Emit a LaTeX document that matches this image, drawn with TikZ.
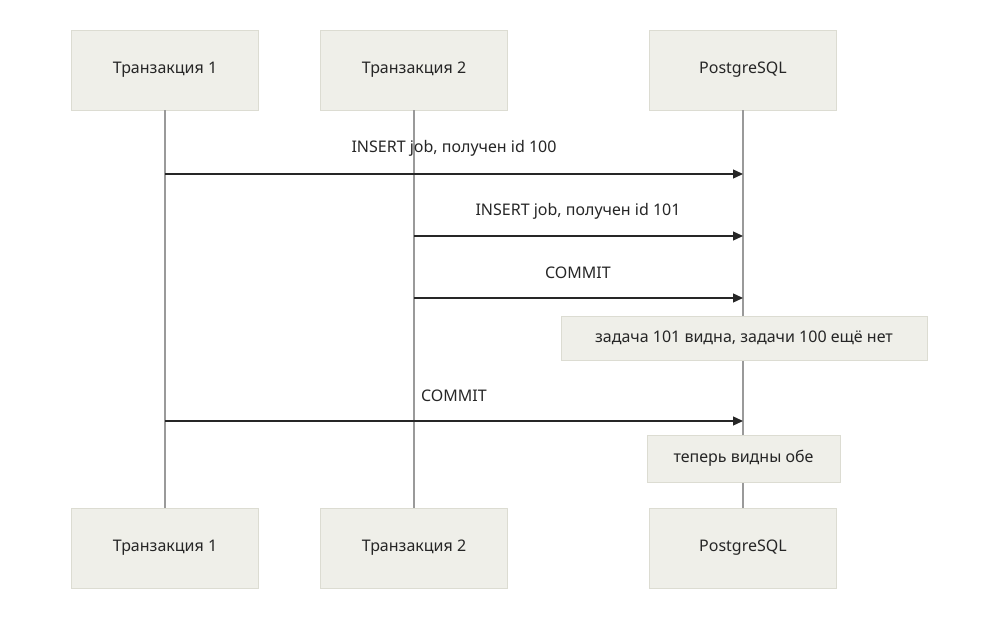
\documentclass[tikz,border=0pt]{standalone}
\usepackage{fontspec}
\setmainfont{Noto Sans}
\usetikzlibrary{arrows.meta}
\definecolor{boxfill}{HTML}{EFEFE9}
\definecolor{boxline}{HTML}{DCDCD2}
\definecolor{life}{HTML}{9A9A9A}
\begin{document}
\begin{tikzpicture}[x=1pt,y=-1pt,
  actor/.style={draw=boxline,fill=boxfill,minimum width=187pt,minimum height=80pt,font=\fontsize{16}{19}\selectfont,text=black!85},
  note/.style={draw=boxline,fill=boxfill,minimum height=44pt,inner xsep=10pt,font=\fontsize{16}{19}\selectfont,text=black!85},
  lifeline/.style={draw=life,line width=1.6pt},
  msg/.style={draw=black!85,line width=1.3pt,-{Triangle[length=10pt,width=9pt]}},
  lbl/.style={font=\fontsize{16}{19}\selectfont,text=black!85}]
\useasboundingbox (0,0) rectangle (1005,624);
\node[actor] (t1) at (165,70) {Транзакция 1};
\node[actor] (t2) at (414,70) {Транзакция 2};
\node[actor] (pg) at (743,70) {PostgreSQL};
\node[actor] (t1b) at (165,548) {Транзакция 1};
\node[actor] (t2b) at (414,548) {Транзакция 2};
\node[actor] (pgb) at (743,548) {PostgreSQL};
\draw[lifeline] (t1) -- (t1b);
\draw[lifeline] (t2) -- (t2b);
\draw[lifeline] (pg) -- (pgb);
\coordinate (a1) at (165,174); \coordinate (b1) at (743,174);
\coordinate (a2) at (414,236); \coordinate (b2) at (743,236);
\coordinate (a3) at (414,298); \coordinate (b3) at (743,298);
\coordinate (a4) at (165,421); \coordinate (b4) at (743,421);
\draw[msg] (a1) -- (b1);
\draw[msg] (a2) -- (b2);
\draw[msg] (a3) -- (b3);
\draw[msg] (a4) -- (b4);
\node[lbl] (l1) at (454,148) {INSERT job, получен id 100};
\node[lbl] (l2) at (578,211) {INSERT job, получен id 101};
\node[lbl] (l3) at (578,273) {COMMIT};
\node[lbl] (l4) at (454,396) {COMMIT};
\node[note,minimum width=366pt] (n1) at (744,338) {задача 101 видна, задачи 100 ещё нет};
\node[note,minimum width=193pt,minimum height=47pt] (n2) at (743.5,458.5) {теперь видны обе};
\end{tikzpicture}
\end{document}
